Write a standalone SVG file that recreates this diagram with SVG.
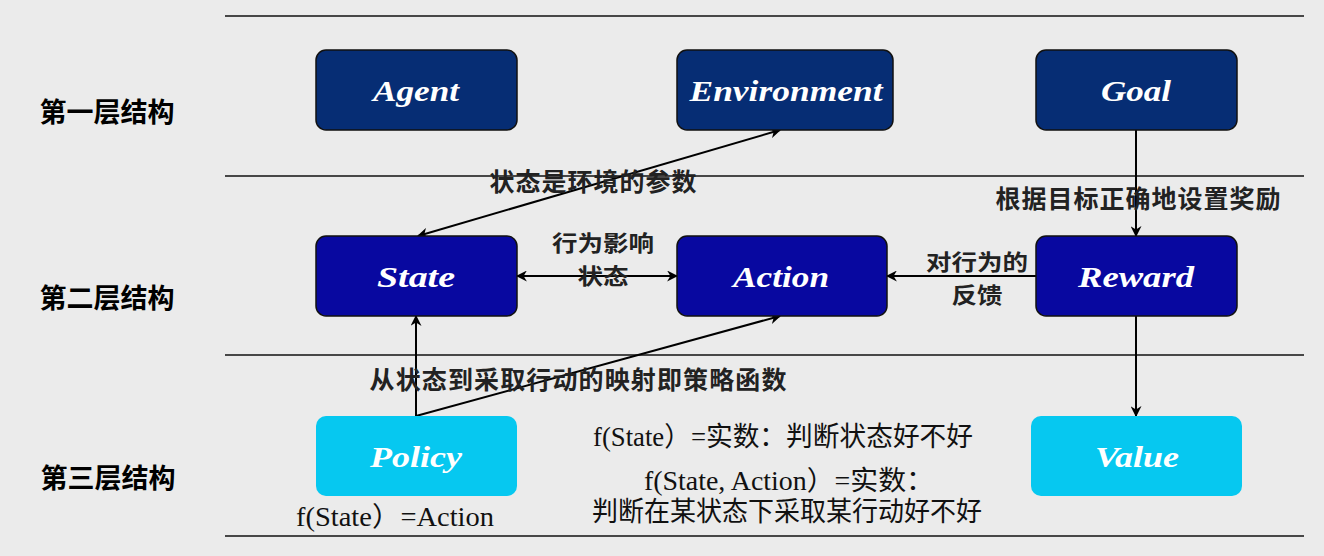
<svg xmlns="http://www.w3.org/2000/svg" width="1324" height="556" viewBox="0 0 1324 556">
<style>
.bg{fill:#ebebeb}
.sep{stroke:#111;stroke-width:1.5}
.layer{font-family:"Noto Sans CJK SC","Noto Sans",sans-serif;font-weight:bold;font-size:27px;fill:#000;text-anchor:middle;dominant-baseline:central}
.n1{fill:#062d74;stroke:#111;stroke-width:1.5}
.n2{fill:#0808a0;stroke:#111;stroke-width:1.5}
.n3{fill:#06c8f0}
.nt{font-family:"Liberation Serif",serif;font-weight:bold;font-style:italic;font-size:30px;fill:#fff;text-anchor:middle;dominant-baseline:central}
.lbl{font-family:"Noto Sans CJK SC","Noto Sans",sans-serif;font-weight:bold;font-size:25px;fill:#222;text-anchor:middle;dominant-baseline:central}
.lbl2{font-size:22px}
.fx{font-family:"Liberation Serif","Noto Sans CJK SC",serif;font-size:27px;fill:#111;text-anchor:middle;dominant-baseline:central}
.ln{stroke:#000;stroke-width:2;fill:none}
</style>
<defs>
<marker id="ah" viewBox="0 0 10 10" refX="9" refY="5" markerWidth="11" markerHeight="11" markerUnits="userSpaceOnUse" orient="auto-start-reverse">
<path d="M0,0 L10,5 L0,10 L3,5 Z" fill="#000"/>
</marker>
</defs>
<rect class="bg" x="0" y="0" width="1324" height="556"/>
<g id="separators">
<line class="sep" x1="225" y1="16" x2="1304" y2="16"/>
<line class="sep" x1="225" y1="176" x2="1304" y2="176"/>
<line class="sep" x1="225" y1="355" x2="1304" y2="355"/>
<line class="sep" x1="225" y1="536" x2="1304" y2="536"/>
</g>
<g id="layer-labels">
<text class="layer" x="107" y="110">第一层结构</text>
<text class="layer" x="107" y="296">第二层结构</text>
<text class="layer" x="108" y="476">第三层结构</text>
</g>
<g id="connectors">
<line class="ln" x1="418" y1="236" x2="780" y2="130" marker-start="url(#ah)" marker-end="url(#ah)"/>
<line class="ln" x1="517" y1="276" x2="677" y2="276" marker-start="url(#ah)" marker-end="url(#ah)"/>
<line class="ln" x1="1036" y1="276" x2="887" y2="276" marker-end="url(#ah)"/>
<line class="ln" x1="1136" y1="130" x2="1136" y2="236" marker-end="url(#ah)"/>
<line class="ln" x1="1136" y1="316" x2="1136" y2="416" marker-end="url(#ah)"/>
<line class="ln" x1="416" y1="416" x2="416" y2="316" marker-end="url(#ah)"/>
<line class="ln" x1="416" y1="416" x2="780" y2="316" marker-end="url(#ah)"/>
<text class="lbl" x="593" y="180" textLength="207">状态是环境的参数</text>
<text class="lbl lbl2" x="603" y="241" textLength="102" lengthAdjust="spacingAndGlyphs">行为影响</text>
<text class="lbl lbl2" x="603" y="274" textLength="51" lengthAdjust="spacingAndGlyphs">状态</text>
<text class="lbl lbl2" x="977" y="260" textLength="102" lengthAdjust="spacingAndGlyphs">对行为的</text>
<text class="lbl lbl2" x="977" y="293" textLength="51" lengthAdjust="spacingAndGlyphs">反馈</text>
<text class="lbl" x="1138" y="197" textLength="285">根据目标正确地设置奖励</text>
<text class="lbl" x="578" y="378" textLength="417">从状态到采取行动的映射即策略函数</text>
</g>
<g id="agent"><rect class="n1" x="316" y="50" width="201" height="80" rx="10"/><text class="nt" x="416" y="90" textLength="86" lengthAdjust="spacingAndGlyphs">Agent</text></g>
<g id="environment"><rect class="n1" x="677" y="50" width="216" height="80" rx="10"/><text class="nt" x="786" y="90" textLength="193" lengthAdjust="spacingAndGlyphs">Environment</text></g>
<g id="goal"><rect class="n1" x="1036" y="50" width="201" height="80" rx="10"/><text class="nt" x="1136" y="90" textLength="70" lengthAdjust="spacingAndGlyphs">Goal</text></g>
<g id="state"><rect class="n2" x="316" y="236" width="201" height="80" rx="10"/><text class="nt" x="416" y="276" textLength="78" lengthAdjust="spacingAndGlyphs">State</text></g>
<g id="action"><rect class="n2" x="677" y="236" width="210" height="80" rx="10"/><text class="nt" x="781" y="276" textLength="96" lengthAdjust="spacingAndGlyphs">Action</text></g>
<g id="reward"><rect class="n2" x="1036" y="236" width="201" height="80" rx="10"/><text class="nt" x="1136" y="276" textLength="116" lengthAdjust="spacingAndGlyphs">Reward</text></g>
<g id="policy"><rect class="n3" x="316" y="416" width="201" height="80" rx="10"/><text class="nt" x="416" y="456" textLength="92" lengthAdjust="spacingAndGlyphs">Policy</text></g>
<g id="value"><rect class="n3" x="1031" y="416" width="211" height="80" rx="10"/><text class="nt" x="1137" y="456" textLength="84" lengthAdjust="spacingAndGlyphs">Value</text></g>
<g id="notes">
<text class="fx" x="783" y="437" textLength="380" lengthAdjust="spacingAndGlyphs">f(State）=实数：判断状态好不好</text>
<text class="fx" x="789" y="481" textLength="290" lengthAdjust="spacingAndGlyphs">f(State, Action）=实数：</text>
<text class="fx" x="787" y="512" textLength="390" lengthAdjust="spacingAndGlyphs">判断在某状态下采取某行动好不好</text>
<text class="fx" x="395" y="517" textLength="198" lengthAdjust="spacingAndGlyphs">f(State）=Action</text>
</g>
</svg>
